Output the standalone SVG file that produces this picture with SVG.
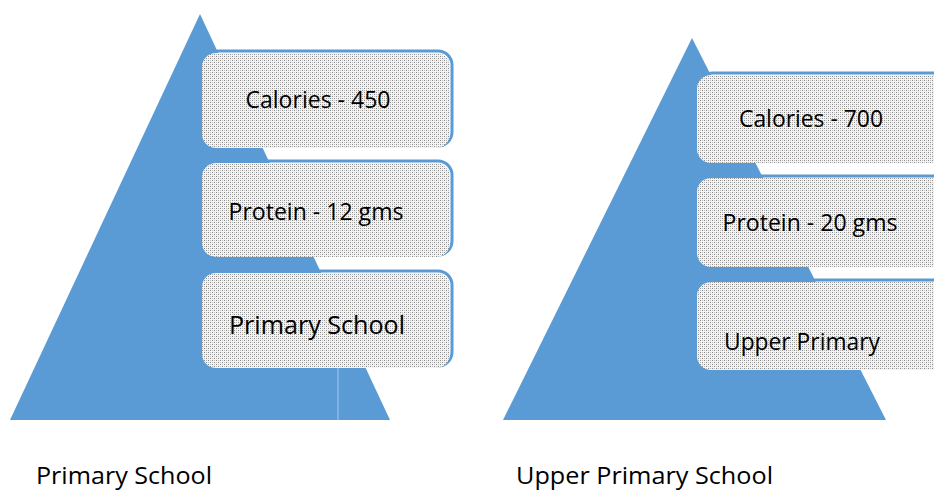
<svg xmlns="http://www.w3.org/2000/svg" width="934" height="491" viewBox="0 0 934 491">
  <style>
    .tri { fill: #5b9bd5; }
    .frame { fill: none; stroke: #5b9bd5; stroke-width: 3; }
    .box { fill: url(#hatch); }
    .lbl { font-family: "Open Sans", "Liberation Sans", Arial, sans-serif; fill: #000; }
  </style>
  <defs>
    <pattern id="hatch" width="4" height="4" patternUnits="userSpaceOnUse">
      <rect width="4" height="4" fill="#f4f4f4"/>
      <rect x="0" y="0" width="1" height="1" fill="#8a8a8a"/>
      <rect x="2" y="2" width="1" height="1" fill="#8a8a8a"/>
      <rect x="2" y="0" width="1" height="1" fill="#bdbdbd"/>
      <rect x="0" y="2" width="1" height="1" fill="#bdbdbd"/>
    </pattern>
  </defs>
  <rect width="934" height="491" fill="#ffffff"/>

  <g id="pyramid-primary">
    <polygon class="tri" points="200,14 390,420 10,420"/>
    <line x1="338" y1="273" x2="338" y2="420" stroke="#a9c8ea" stroke-width="1"/>
  </g>
  <g id="pyramid-upper">
    <polygon class="tri" points="692,38 886,420 503,420"/>
  </g>

  <g id="box-calories-450">
    <rect class="frame" x="204" y="51" width="248" height="95" rx="14"/>
    <rect class="box" x="202" y="53" width="248" height="95" rx="14"/>
    <text class="lbl" x="318" y="108" font-size="23.5" text-anchor="middle" textLength="145" lengthAdjust="spacingAndGlyphs">Calories - 450</text>
  </g>
  <g id="box-protein-12">
    <rect class="frame" x="204" y="161" width="248" height="94" rx="14"/>
    <rect class="box" x="202" y="163" width="248" height="94" rx="14"/>
    <text class="lbl" x="316" y="220" font-size="23.5" text-anchor="middle" textLength="175" lengthAdjust="spacingAndGlyphs">Protein - 12 gms</text>
  </g>
  <g id="box-primary-school">
    <rect class="frame" x="204" y="271" width="248" height="95" rx="14"/>
    <rect class="box" x="202" y="273" width="248" height="95" rx="14"/>
    <text class="lbl" x="317" y="334" font-size="26" text-anchor="middle" textLength="176" lengthAdjust="spacingAndGlyphs">Primary School</text>
  </g>

  <g id="box-calories-700">
    <rect class="frame" x="699" y="73" width="260" height="87" rx="14"/>
    <rect class="box" x="697" y="75" width="260" height="88" rx="14"/>
    <text class="lbl" x="811" y="127" font-size="23.5" text-anchor="middle" textLength="144" lengthAdjust="spacingAndGlyphs">Calories - 700</text>
  </g>
  <g id="box-protein-20">
    <rect class="frame" x="699" y="176" width="260" height="88" rx="14"/>
    <rect class="box" x="697" y="178" width="260" height="89" rx="14"/>
    <text class="lbl" x="810" y="231" font-size="23.5" text-anchor="middle" textLength="175" lengthAdjust="spacingAndGlyphs">Protein - 20 gms</text>
  </g>
  <g id="box-upper-primary">
    <rect class="frame" x="699" y="280" width="260" height="88" rx="14"/>
    <rect class="box" x="697" y="282" width="260" height="88" rx="14"/>
    <text class="lbl" x="724" y="350" font-size="23.5" textLength="156" lengthAdjust="spacingAndGlyphs">Upper Primary</text>
  </g>

  <g id="connectors"></g>

  <g id="captions">
    <text class="lbl" x="36" y="484" font-size="24" textLength="176" lengthAdjust="spacingAndGlyphs">Primary School</text>
    <text class="lbl" x="516" y="484" font-size="24" textLength="257" lengthAdjust="spacingAndGlyphs">Upper Primary School</text>
  </g>
</svg>
